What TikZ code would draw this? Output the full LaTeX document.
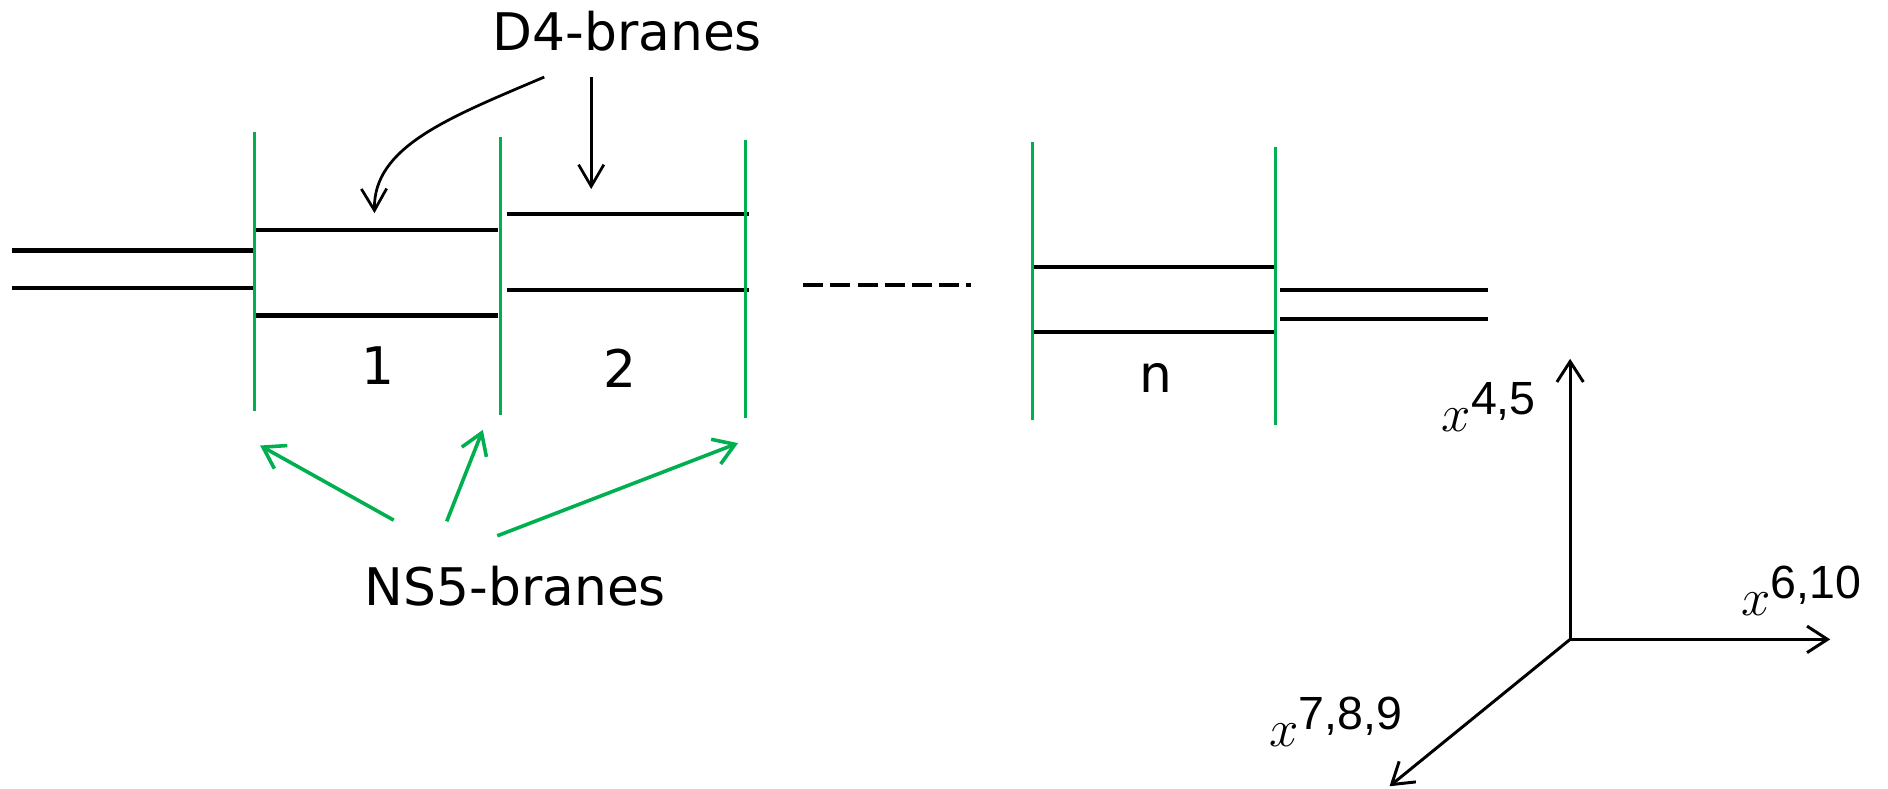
\documentclass[tikz,border=0pt]{standalone}
\usepackage{fontspec}
\newfontfamily\lblfont{DejaVu Sans}
\newfontfamily\axsf{Liberation Sans}
\usetikzlibrary{arrows.meta}
\definecolor{nsgreen}{RGB}{0,176,80}
\newcommand{\axlab}[1]{{\fontsize{25}{29}\selectfont$x$}\raisebox{8pt}{\axsf\fontsize{22}{26}\selectfont #1}}
\tikzset{
  d4/.style={line width=2pt, black},
  ns5/.style={line width=1.5pt, nsgreen},
  ptr/.style={line width=1.3pt, black, -{Straight Barb[length=0.36cm,width=0.42cm,line width=1.3pt]}},
  gptr/.style={line width=1.7pt, nsgreen, -{Straight Barb[length=0.34cm,width=0.44cm,line width=1.7pt]}},
  axis/.style={line width=1.4pt, black, -{Straight Barb[length=0.34cm,width=0.44cm,line width=1.4pt]}},
  lbl/.style={font=\lblfont\fontsize{24.5}{29}\selectfont, inner sep=0pt, anchor=base},
  axl/.style={inner sep=0pt, anchor=base west},
  dots/.style={line width=2pt, black, dash pattern=on 0.332cm off 0.12cm},
}
\begin{document}
\begin{tikzpicture}[x=0.02cm, y=-0.02cm]
\useasboundingbox (0,0) rectangle (1568,655);
% NS5-brane end points
\coordinate (n1t) at (211.5,110); \coordinate (n1b) at (211.5,341);
\coordinate (n2t) at (416,114);   \coordinate (n2b) at (416,345);
\coordinate (n3t) at (619,116);   \coordinate (n3b) at (619,347);
\coordinate (n4t) at (857.5,118); \coordinate (n4b) at (857.5,349);
\coordinate (n5t) at (1059,122);  \coordinate (n5b) at (1059,353);
% D4-brane end points
\coordinate (a1) at (10,208);   \coordinate (a2) at (211,208);
\coordinate (b1) at (10,239);   \coordinate (b2) at (211,239);
\coordinate (c1) at (213,191);  \coordinate (c2) at (414,191);
\coordinate (d1) at (213,262);  \coordinate (d2) at (414,262);
\coordinate (e1) at (421,178);  \coordinate (e2) at (622,178);
\coordinate (f1) at (421,241);  \coordinate (f2) at (622,241);
\coordinate (g1) at (859,222);  \coordinate (g2) at (1060,222);
\coordinate (h1) at (859,276);  \coordinate (h2) at (1060,276);
\coordinate (i1) at (1063,241); \coordinate (i2) at (1236,241);
\coordinate (j1) at (1063,265); \coordinate (j2) at (1236,265);
\coordinate (k1) at (667,237);  \coordinate (k2) at (806,237);
% D4 branes
\draw[d4] (a1) -- (a2);
\draw[d4] (b1) -- (b2);
\draw[d4] (c1) -- (c2);
\draw[d4] (d1) -- (d2);
\draw[d4] (e1) -- (e2);
\draw[d4] (f1) -- (f2);
\draw[d4] (g1) -- (g2);
\draw[d4] (h1) -- (h2);
\draw[d4] (i1) -- (i2);
\draw[d4] (j1) -- (j2);
\draw[dots] (k1) -- (k2);
% NS5 branes
\draw[ns5] (n1t) -- (n1b);
\draw[ns5] (n2t) -- (n2b);
\draw[ns5] (n3t) -- (n3b);
\draw[ns5] (n4t) -- (n4b);
\draw[ns5] (n5t) -- (n5b);
% interval labels
\node[lbl] (l1) at (314,319) {1};
\node[lbl] (l2) at (515,322) {2};
\node[lbl] (ln) at (960,326) {n};
% D4 label and pointers
\node[lbl] (d4lab) at (521,42) {D4-branes};
\coordinate (p1s) at (452,64);  \coordinate (p1e) at (311,177);
\coordinate (p2s) at (491,64);  \coordinate (p2e) at (491,157);
\draw[ptr] (p1s) .. controls (372,98) and (310,122) .. (p1e);
\draw[ptr] (p2s) -- (p2e);
% NS5 label and pointers
\node[lbl] (ns5lab) at (428,503) {NS5-branes};
\coordinate (q1s) at (327,432); \coordinate (q1e) at (216,370);
\coordinate (q2s) at (371,433); \coordinate (q2e) at (401,357);
\coordinate (q3s) at (413,445); \coordinate (q3e) at (613,368);
\draw[gptr] (q1s) -- (q1e);
\draw[gptr] (q2s) -- (q2e);
\draw[gptr] (q3s) -- (q3e);
% axes
\coordinate (o) at (1304,531);
\coordinate (ay) at (1304,298);
\coordinate (ax) at (1520,531);
\coordinate (az) at (1154,653);
\draw[axis] (o) -- (ay);
\draw[axis] (o) -- (ax);
\draw[axis] (o) -- (az);
\node[axl] (lab45) at (1197,358) {\axlab{4,5}};
\node[axl] (lab610) at (1446,511) {\axlab{6,10}};
\node[axl] (lab789) at (1054,620) {\axlab{7,8,9}};
\end{tikzpicture}
\end{document}
